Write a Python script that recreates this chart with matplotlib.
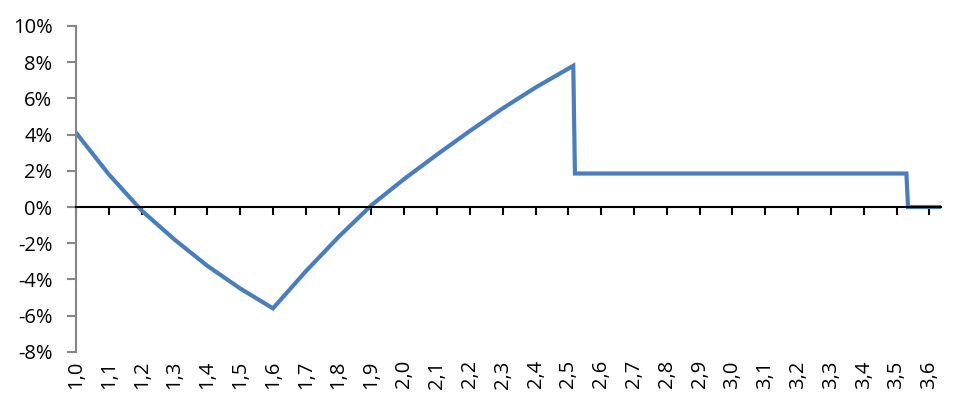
import matplotlib.pyplot as plt

# values (x, percent)
x_vals = [1.0, 1.1, 1.2, 1.3, 1.4, 1.5, 1.6, 1.7, 1.8, 1.9, 2.0, 2.1, 2.2, 2.3,
          2.4, 2.515, 2.52, 3.53, 3.535, 3.635]
y_vals = [4.1, 1.8, -0.2, -1.8, -3.25, -4.5, -5.6, -3.55, -1.65, 0.1, 1.55, 2.9,
          4.2, 5.45, 6.6, 7.8, 1.85, 1.85, 0.0, 0.0]

x_ticks = [round(1.0 + 0.1 * i, 1) for i in range(27)]
x_labels = [f"{t:.1f}".replace(".", ",") for t in x_ticks]
y_ticks = [-8, -6, -4, -2, 0, 2, 4, 6, 8, 10]
y_labels = [f"{t}%" for t in y_ticks]

plt.rcParams['font.family'] = ['Open Sans', 'DejaVu Sans']

fig = plt.figure(figsize=(9.63, 4.12), dpi=100)
ax = fig.add_axes([0.079, 0.146, 0.898, 0.791])

ax.plot(x_vals, y_vals, color='#4a7ebb', linewidth=3.0, solid_joinstyle='miter')

ax.set_xlim(1.0, 3.635)
ax.set_ylim(-8, 10)

ax.spines['top'].set_visible(False)
ax.spines['right'].set_visible(False)
ax.spines['left'].set_color('#868686')
ax.spines['left'].set_linewidth(1.5)
ax.spines['bottom'].set_position(('data', 0))
ax.spines['bottom'].set_color('black')
ax.spines['bottom'].set_linewidth(1.5)

ax.set_yticks(y_ticks, y_labels)
ax.tick_params(axis='y', direction='out', length=6.5, width=1.5, color='#868686',
               labelsize=14.5, pad=10.5)

ax.set_xticks(x_ticks)
ax.tick_params(axis='x', direction='out', length=6, width=1.5, color='black',
               labelbottom=False)

sec = ax.secondary_xaxis('bottom')
sec.set_xticks(x_ticks, x_labels, rotation=90)
sec.tick_params(length=0, labelsize=14.5, pad=6)
sec.spines['bottom'].set_visible(False)

fig.savefig('out.png', dpi=100)
